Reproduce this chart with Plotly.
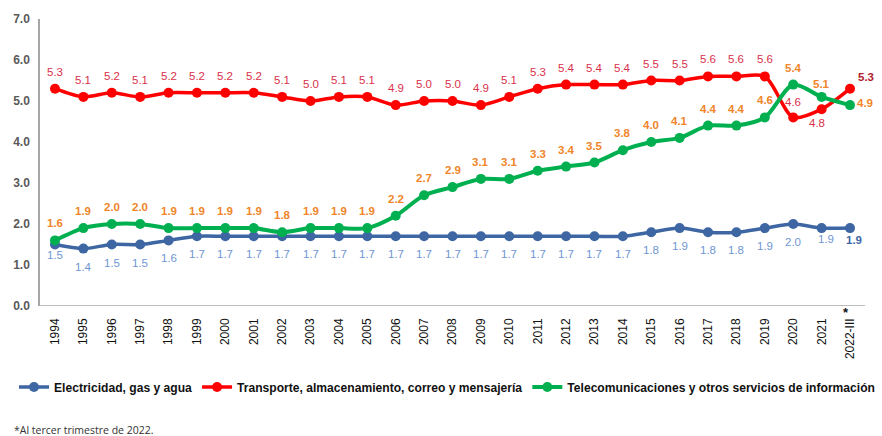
import plotly.graph_objects as go

years = ["1994", "1995", "1996", "1997", "1998", "1999", "2000", "2001", "2002", "2003",
         "2004", "2005", "2006", "2007", "2008", "2009", "2010", "2011", "2012", "2013",
         "2014", "2015", "2016", "2017", "2018", "2019", "2020", "2021", "2022-III"]

electricidad = [1.5, 1.4, 1.5, 1.5, 1.6, 1.7, 1.7, 1.7, 1.7, 1.7,
                1.7, 1.7, 1.7, 1.7, 1.7, 1.7, 1.7, 1.7, 1.7, 1.7,
                1.7, 1.8, 1.9, 1.8, 1.8, 1.9, 2.0, 1.9, 1.9]
transporte = [5.3, 5.1, 5.2, 5.1, 5.2, 5.2, 5.2, 5.2, 5.1, 5.0,
              5.1, 5.1, 4.9, 5.0, 5.0, 4.9, 5.1, 5.3, 5.4, 5.4,
              5.4, 5.5, 5.5, 5.6, 5.6, 5.6, 4.6, 4.8, 5.3]
telecom = [1.6, 1.9, 2.0, 2.0, 1.9, 1.9, 1.9, 1.9, 1.8, 1.9,
           1.9, 1.9, 2.2, 2.7, 2.9, 3.1, 3.1, 3.3, 3.4, 3.5,
           3.8, 4.0, 4.1, 4.4, 4.4, 4.6, 5.4, 5.1, 4.9]

names = ["Electricidad, gas y agua",
         "Transporte, almacenamiento, correo y mensajería",
         "Telecomunicaciones y otros servicios de información"]
y_ticks = ["0.0", "1.0", "2.0", "3.0", "4.0", "5.0", "6.0", "7.0"]
footnote = "*Al tercer trimestre de 2022."

x = list(range(len(years)))
n = len(years)
FONT = "Liberation Sans, Arial, sans-serif"

# plot area spans to the right page edge so the horizontal legend fits one row;
# the visible x-axis line stops half a category after the last point
PAD_L = 0.528
PAD_R_LINE = 0.53
PAD_R_AREA = 1.127

series = [
    dict(values=electricidad, name=names[0], line="#3D66A3", width=3.5,
         lab="#6F96D3", lab_last="#3F67A6", weight="normal", dy=-18,
         over={0: (0, -10), 27: (4, -11), 28: (4, -12)}),
    dict(values=transporte, name=names[1], line="#FF0000", width=3.5,
         lab="#D9304A", lab_last="#B0202E", weight="normal", dy=17,
         over={26: (0, 15), 27: (-5, -14), 28: (16, 12)}),
    dict(values=telecom, name=names[2], line="#00B050", width=4,
         lab="#F0852A", lab_last="#F0852A", weight="bold", dy=17,
         over={27: (0, 13), 28: (15, 2)}),
]

fig = go.Figure()

fig.add_shape(type="line", xref="x", yref="y", x0=-PAD_L, x1=n - 1 + PAD_R_LINE,
              y0=0, y1=0, line=dict(color="#A6A6A6", width=1.5), layer="below")

for s in series:
    fig.add_trace(go.Scatter(
        x=x, y=s["values"], name=s["name"], mode="lines+markers",
        line=dict(color=s["line"], width=s["width"], shape="spline", smoothing=0.8),
        marker=dict(size=10, color=s["line"]),
        cliponaxis=False,
    ))
    for i, v in enumerate(s["values"]):
        dx, dy = s["over"].get(i, (0, s["dy"]))
        last = i == n - 1
        fig.add_annotation(
            x=x[i], y=v, xref="x", yref="y", text=f"{v:.1f}", showarrow=False,
            xanchor="center", yanchor="middle", xshift=dx, yshift=dy,
            font=dict(family=FONT, size=11.5,
                      color=s["lab_last"] if last else s["lab"],
                      weight="bold" if (last or s["weight"] == "bold") else "normal"),
        )

fig.update_layout(
    width=882, height=436,
    margin=dict(l=40, r=0, t=19, b=130, autoexpand=False),
    paper_bgcolor="white", plot_bgcolor="white",
    showlegend=True,
    legend=dict(orientation="h", x=-26 / 842, xanchor="left",
                y=-0.282, yanchor="middle",
                font=dict(family=FONT, size=12.1, color="#111111", weight="bold"),
                itemwidth=30, tracegroupgap=0, traceorder="normal"),
    font=dict(family=FONT),
)

fig.update_xaxes(
    range=[-PAD_L, n - 1 + PAD_R_AREA],
    tickmode="array", tickvals=x, ticktext=years, tickangle=-90,
    tickfont=dict(family=FONT, size=12, color="#111111"),
    showgrid=False, zeroline=False, showline=False,
    ticks="", ticklabelstandoff=9,
)
fig.update_yaxes(
    range=[0, 7], tickmode="array", tickvals=[float(t) for t in y_ticks], ticktext=y_ticks,
    tickfont=dict(family=FONT, size=12, color="#595959", weight="bold"),
    showgrid=False, zeroline=False,
    showline=True, linecolor="#A6A6A6", linewidth=1.5,
    ticks="", ticklabelstandoff=6,
)

fig.add_annotation(x=n - 1, y=0, xref="x", yref="y", text="*", showarrow=False,
                   yanchor="top", yshift=3, xshift=-4,
                   font=dict(family=FONT, size=13, color="#111111", weight="bold"))

fig.add_annotation(x=-28 / 842, y=-(430 - 306) / 287, xref="paper", yref="paper",
                   xanchor="left", yanchor="middle", text=footnote, showarrow=False,
                   font=dict(family="Open Sans, Liberation Sans, sans-serif", size=10.5,
                             color="#333333"))

fig.write_html("out.html", config={"displayModeBar": False},
               post_script="document.body.style.margin='0';document.body.style.overflow='hidden';")
